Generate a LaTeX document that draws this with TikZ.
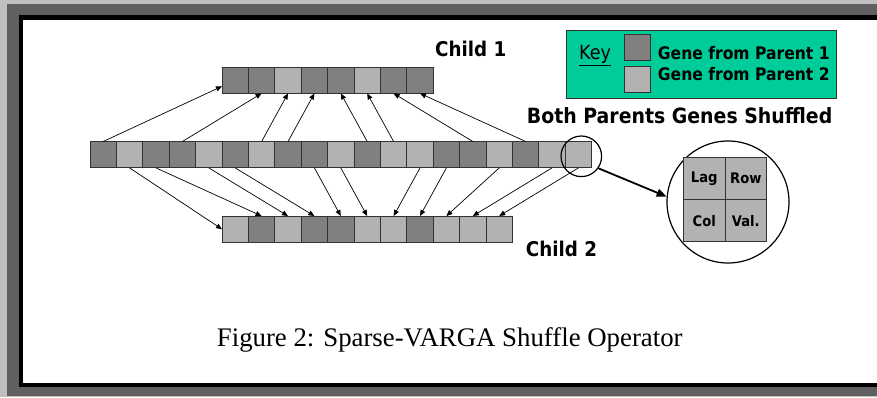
\documentclass[tikz,border=0pt]{standalone}
\usepackage{fontspec}
\setmainfont{Liberation Serif}
\newfontfamily\genefont[FakeStretch=0.9]{DejaVu Sans}
\usetikzlibrary{arrows.meta}
\definecolor{geneA}{HTML}{808080}
\definecolor{geneB}{HTML}{B2B2B2}
\definecolor{keygreen}{HTML}{00CC99}
\definecolor{frameout}{HTML}{C0C0C0}
\definecolor{framedark}{HTML}{606060}

\begin{document}
\begin{tikzpicture}[x=1pt,y=-1pt,
  gene/.style={draw=black!80, line width=0.9pt, minimum width=26.4pt,
    minimum height=26.4pt, inner sep=0pt, outer sep=0pt},
  link/.style={-{Triangle[length=6pt,width=5pt]}, line width=0.7pt},
  lbl/.style={font=\genefont\bfseries\fontsize{20.3}{24}\selectfont,
    inner sep=0pt, anchor=base west},
  keytxt/.style={font=\genefont\bfseries\fontsize{17.3}{21}\selectfont,
    inner sep=0pt, anchor=base west},
  field/.style={draw=black!80, line width=0.9pt, fill=geneB,
    minimum width=41.7pt, minimum height=42pt, inner sep=0pt,
    font=\genefont\bfseries\fontsize{14.6}{16}\selectfont}]

\useasboundingbox (0,0) rectangle (877,397);

% page frame
\fill[frameout] (0,0) rectangle (877,397);
\fill[framedark] (7.3,4) rectangle (877,396);
\fill[black] (19,15) rectangle (877,386.7);
\fill[white] (23,20) rectangle (877,382.7);

% parent chromosome (both parents' genes shuffled)
\foreach \c [count=\i] in {A,B,A,A,B,A,B,A,A,B,A,B,B,A,A,B,A,B,B}
  \node[gene, fill=gene\c] (p\i) at ({90+26.4*(\i-0.5)},154.7) {};

% child 1
\foreach \c [count=\i] in {A,A,B,A,A,B,A,A}
  \node[gene, fill=gene\c] (c\i) at ({222+26.4*(\i-0.5)},80.2) {};

% child 2
\foreach \c [count=\i] in {B,A,B,A,A,B,B,A,B,B,B}
  \node[gene, fill=gene\c] (d\i) at ({222+26.4*(\i-0.5)},229.2) {};

% genes passed to child 1
\draw[link] (p1.north) -- (c1);
\foreach \s/\j in {4/2,7/3,8/4,11/5,12/6,15/7,17/8}
  \draw[link] (p\s.north) -- (c\j.south);

% genes passed to child 2
\draw[link] (p2.south) -- (d1.west);
\foreach \s/\j in {3/2,5/3,6/4,9/5,10/6,13/7,14/8,16/9,18/10,19/11}
  \draw[link] (p\s.south) -- (d\j.north);

% labels
\node[lbl] (lc1) at (435,56.7) {Child 1};
\node[lbl, font=\genefont\bfseries\fontsize{21}{24}\selectfont]
  (lboth) at (526.7,123.3) {Both Parents Genes Shuffled};
\node[lbl] (lc2) at (525.7,256.5) {Child 2};

% key
\node[draw=black!80, fill=keygreen, line width=0.9pt, inner sep=0pt,
  minimum width=269.3pt, minimum height=67.6pt] (keybox) at (701.35,64.5) {};
\node[gene, fill=geneA] (ka) at (637.5,47.2) {};
\node[gene, fill=geneB] (kb) at (637.5,79.2) {};
\node[font=\genefont\fontsize{19.5}{23}\selectfont, inner sep=0pt,
  anchor=base west] (keylbl) at (579,59.3) {\underline{Key}};
\node[keytxt] (ta) at (657.7,59.3) {Gene from Parent 1};
\node[keytxt] (tb) at (657.7,80.6) {Gene from Parent 2};

% magnified gene
\node[draw, circle, line width=1.2pt, inner sep=0pt, minimum size=40.6pt]
  (zoomc) at (581.3,156.3) {};
\node[draw, circle, line width=1.2pt, inner sep=0pt, minimum size=122pt]
  (bigc) at (728,202) {};
\node[field] (lag) at (704.2,178.7) {Lag};
\node[field] (row) at (745.8,178.7) {Row};
\node[field] (col) at (704.2,220.7) {Col};
\node[field] (val) at (745.8,220.7) {Val.};
\draw[-{Triangle[length=10pt,width=8pt]}, line width=1.8pt]
  (zoomc.-35) -- (bigc.175);

% caption
\node[font=\fontsize{26.8}{30}\selectfont, inner sep=0pt, anchor=base west]
  (cap) at (216.7,346) {Figure 2: Sparse-VARGA Shuffle Operator};
\end{tikzpicture}
\end{document}
